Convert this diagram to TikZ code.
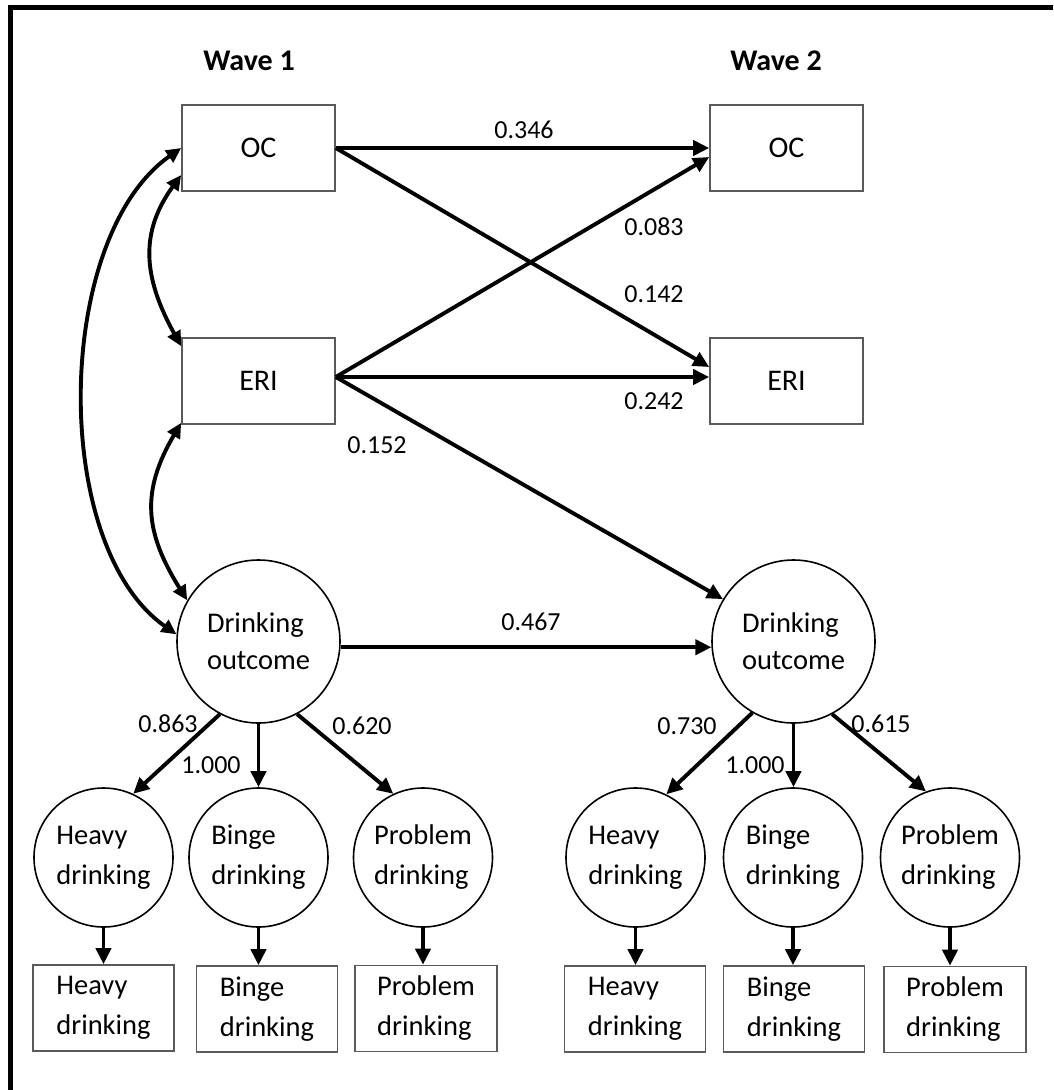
\documentclass[tikz,border=0pt]{standalone}
\usepackage{fontspec}
\setmainfont{Carlito}
\usetikzlibrary{arrows.meta,calc}
\definecolor{boxgray}{RGB}{90,90,90}
\begin{document}
\begin{tikzpicture}[x=1pt,y=1pt,
  obs/.style={draw=boxgray, line width=1.6pt, minimum width=153pt, minimum height=86pt, inner sep=0pt, font=\fontsize{30}{36}\selectfont},
  ind/.style={draw=boxgray, line width=1.6pt, minimum width=141pt, minimum height=86pt, inner sep=0pt, align=left, font=\fontsize{28.5}{40}\selectfont},
  lat/.style={draw, circle, line width=1.6pt, minimum size=163pt, inner sep=0pt, align=left, font=\fontsize{28.5}{37}\selectfont},
  fac/.style={draw, circle, line width=1.6pt, minimum size=139pt, inner sep=0pt, align=left, font=\fontsize{28.5}{40}\selectfont},
  coef/.style={font=\fontsize{26}{30}\selectfont, inner sep=0pt},
  wave/.style={font=\fontsize{30}{36}\selectfont\bfseries},
  reg/.style={line width=3.9pt, -{Triangle[length=16pt,width=15pt]}},
  cov/.style={line width=3.9pt, {Triangle[length=15pt,width=14pt]}-{Triangle[length=15pt,width=14pt]}},
]
% canvas and frame
\fill[white] (0,0) rectangle (1053,-1090);
\useasboundingbox (0,0) rectangle (1053,-1090);
\draw[line width=5pt, line join=miter] (10.5,-1090) -- (10.5,-7.5) -- (1053,-7.5);

% headings
\node[wave] (w1) at (249,-61) {Wave 1};
\node[wave] (w2) at (776,-61) {Wave 2};

% observed predictors
\node[obs] (oc1)  at (258.5,-148) {OC};
\node[obs] (eri1) at (258.5,-381) {ERI};
\node[obs] (oc2)  at (786.5,-148) {OC};
\node[obs] (eri2) at (786.5,-381) {ERI};

% latent drinking outcomes
\node[lat] (do1) at (258.5,-641.5) {Drinking\\outcome};
\node[lat] (do2) at (793.5,-641.5) {Drinking\\outcome};

% first-order factors
\node[fac] (h1) at (103.5,-857.5) {Heavy\\drinking};
\node[fac] (b1) at (258.5,-857.5) {Binge\\drinking};
\node[fac] (p1) at (423,-857.5) {Problem\\drinking};
\node[fac] (h2) at (635.5,-857.5) {Heavy\\drinking};
\node[fac] (b2) at (793,-857.5) {Binge\\drinking};
\node[fac] (p2) at (950,-857.5) {Problem\\drinking};

% indicators
\node[ind] (hb1) at (103.5,-1008) {Heavy\\drinking};
\node[ind] (bb1) at (267,-1009) {Binge\\drinking};
\node[ind, minimum width=142pt] (pb1) at (426,-1008.5) {Problem\\drinking};
\node[ind] (hb2) at (635,-1009) {Heavy\\drinking};
\node[ind] (bb2) at (794,-1009) {Binge\\drinking};
\node[ind, minimum width=142pt] (pb2) at (955,-1009.5) {Problem\\drinking};

% cross-lagged paths
\coordinate (e1o) at ($(eri1.east)+(0,4)$);
\draw[reg] (oc1.east) -- (oc2.west);
\draw[reg] (oc1.east) -- ($(eri2.west)+(0,14)$);
\draw[reg] (e1o) -- ($(oc2.west)+(0,-9)$);
\draw[reg] (e1o) -- ($(eri2.west)+(0,4)$);
\draw[reg] (e1o) -- (do2.149.5);
\draw[reg] (do1.-4) -- (do2.184);

% loadings
\draw[reg] (do1.-118) -- (h1.65);
\draw[reg] (do1.south) -- (b1.north);
\draw[reg] (do1.-62) -- (p1.115);
\draw[reg] (do2.-120) -- (h2.64);
\draw[reg] (do2.south) -- (do2.south |- b2.north);
\draw[reg] (do2.-62) -- (p2.110);

% factors to indicators
\foreach \f/\i in {h1/hb1, b1/bb1, p1/pb1, h2/hb2, b2/bb2, p2/pb2}
  \draw[reg] (\f.south) -- (\f.south |- \i.north);

% wave 1 covariances
\draw[cov] (oc1.west) .. controls +(215:155) and +(145:155) .. (do1.175);
\draw[cov] ($(oc1.west)+(0,-27)$) .. controls +(234:70) and +(119:80) .. ($(eri1.north west)+(0,-9)$);
\draw[cov] ($(eri1.south west)+(0,2)$) .. controls +(239.5:80) and +(122:80) .. (do1.150);

% coefficients
\node[coef] (c346) at (524,-130) {0.346};
\node[coef] (c083) at (654,-227) {0.083};
\node[coef] (c142) at (654,-294) {0.142};
\node[coef] (c242) at (654,-401) {0.242};
\node[coef] (c152) at (377,-445) {0.152};
\node[coef] (c467) at (531,-622) {0.467};
\node[coef] (c863) at (168,-724) {0.863};
\node[coef] (c100a) at (211,-765) {1.000};
\node[coef] (c620) at (362,-726) {0.620};
\node[coef] (c730) at (687,-726) {0.730};
\node[coef] (c100b) at (755,-765) {1.000};
\node[coef] (c615) at (881,-724) {0.615};
\end{tikzpicture}
\end{document}
